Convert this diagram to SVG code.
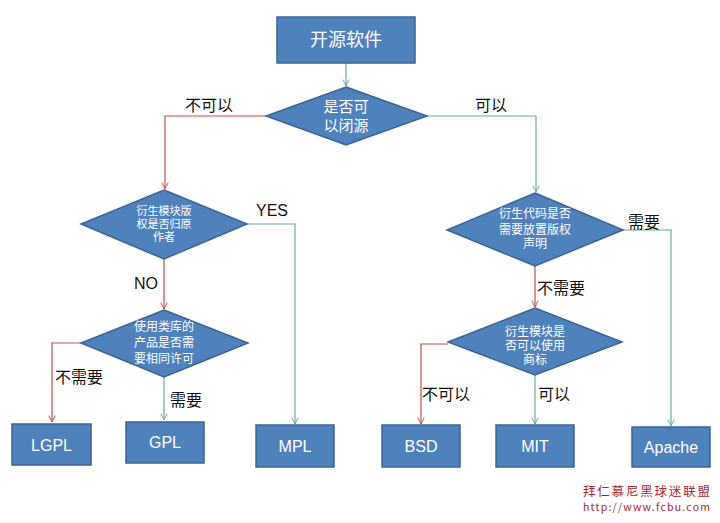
<svg xmlns="http://www.w3.org/2000/svg" width="720" height="523" viewBox="0 0 720 523">
<defs>
<style>
.node{fill:#4f81bd;stroke:#3a6595;stroke-width:1.5}
.nt{fill:#fff;font-family:"Liberation Sans","Noto Sans CJK SC",sans-serif;text-anchor:middle}
.lbl{fill:#111;font-family:"Liberation Sans","Noto Sans CJK SC",sans-serif;font-size:16px}
.r{fill:none;stroke:#c0504d;stroke-width:1.2}
.g{fill:none;stroke:#6aae94;stroke-width:1.2}
.wm{fill:#a8262e;font-family:"Noto Sans CJK SC",sans-serif}
</style>
<marker id="ar" viewBox="0 0 10 10" refX="9" refY="5" markerWidth="8" markerHeight="8" orient="auto" markerUnits="userSpaceOnUse">
<polyline points="1,1 9,5 1,9" fill="none" stroke="#c0504d" stroke-width="1.2"/>
</marker>
<marker id="ag" viewBox="0 0 10 10" refX="9" refY="5" markerWidth="8" markerHeight="8" orient="auto" markerUnits="userSpaceOnUse">
<polyline points="1,1 9,5 1,9" fill="none" stroke="#6aae94" stroke-width="1.2"/>
</marker>
</defs>
<rect width="720" height="523" fill="#fff"/>
<g id="connectors">
<path class="g" d="M346,63 V86" marker-end="url(#ag)"/>
<path class="r" d="M266,116 H165 V189" marker-end="url(#ar)"/>
<path class="g" d="M427,116 H536 V192" marker-end="url(#ag)"/>
<path class="g" d="M247,224 H295 V424" marker-end="url(#ag)"/>
<path class="r" d="M164,259 V309" marker-end="url(#ar)"/>
<path class="r" d="M81,343 H52 V422" marker-end="url(#ar)"/>
<path class="g" d="M164,377 V420" marker-end="url(#ag)"/>
<path class="g" d="M623,230 H671 V426" marker-end="url(#ag)"/>
<path class="r" d="M535,265 V307" marker-end="url(#ar)"/>
<path class="r" d="M448,344 H421 V424" marker-end="url(#ar)"/>
<path class="g" d="M535,375 V424" marker-end="url(#ag)"/>
</g>
<g id="labels">
<text class="lbl" x="185" y="111">不可以</text>
<text class="lbl" x="475" y="111">可以</text>
<text class="lbl" x="256" y="216" font-size="15">YES</text>
<text class="lbl" x="134" y="289" font-size="15">NO</text>
<text class="lbl" x="55" y="383">不需要</text>
<text class="lbl" x="170" y="406">需要</text>
<text class="lbl" x="628" y="228">需要</text>
<text class="lbl" x="537" y="294">不需要</text>
<text class="lbl" x="422" y="400">不可以</text>
<text class="lbl" x="538" y="400">可以</text>
</g>
<g id="n-start">
<rect class="node" x="277" y="17" width="138" height="46"/>
<text class="nt" x="346" y="46" font-size="18">开源软件</text>
</g>
<g id="n-close">
<polygon class="node" points="346,87 427,116 346,145 266,116"/>
<text class="nt" x="346" y="112" font-size="15">是否可</text>
<text class="nt" x="346" y="131" font-size="15">以闭源</text>
</g>
<g id="n-copyright">
<polygon class="node" points="164,190 247,224 164,259 81,224"/>
<text class="nt" x="164" y="215" font-size="11">衍生模块版</text>
<text class="nt" x="164" y="228" font-size="11">权是否归原</text>
<text class="nt" x="164" y="241" font-size="11">作者</text>
</g>
<g id="n-samelicense">
<polygon class="node" points="164,310 248,343 164,377 81,343"/>
<text class="nt" x="164" y="331" font-size="12">使用类库的</text>
<text class="nt" x="164" y="347" font-size="12">产品是否需</text>
<text class="nt" x="164" y="363" font-size="12">要相同许可</text>
</g>
<g id="n-notice">
<polygon class="node" points="535,193 623,230 535,266 447,230"/>
<text class="nt" x="535" y="218" font-size="12">衍生代码是否</text>
<text class="nt" x="535" y="234" font-size="12">需要放置版权</text>
<text class="nt" x="535" y="248" font-size="12">声明</text>
</g>
<g id="n-trademark">
<polygon class="node" points="535,308 622,342 535,375 448,342"/>
<text class="nt" x="535" y="336" font-size="12">衍生模块是</text>
<text class="nt" x="535" y="350" font-size="12">否可以使用</text>
<text class="nt" x="535" y="364" font-size="12">商标</text>
</g>
<g id="n-lgpl">
<rect class="node" x="12" y="424" width="79" height="41"/>
<text class="nt" x="51.5" y="451" font-size="16">LGPL</text>
</g>
<g id="n-gpl">
<rect class="node" x="126" y="422" width="78" height="41"/>
<text class="nt" x="165" y="448" font-size="16">GPL</text>
</g>
<g id="n-mpl">
<rect class="node" x="256" y="425" width="78" height="42"/>
<text class="nt" x="295" y="452" font-size="16">MPL</text>
</g>
<g id="n-bsd">
<rect class="node" x="382" y="425" width="78" height="42"/>
<text class="nt" x="421" y="452" font-size="16">BSD</text>
</g>
<g id="n-mit">
<rect class="node" x="496" y="425" width="78" height="42"/>
<text class="nt" x="535" y="452" font-size="16">MIT</text>
</g>
<g id="n-apache">
<rect class="node" x="632" y="427" width="78" height="40"/>
<text class="nt" x="671" y="453" font-size="16">Apache</text>
</g>
<g id="watermark">
<text class="wm" x="583" y="496" font-size="12.5" textLength="127">拜仁慕尼黑球迷联盟</text>
<text class="wm" x="583" y="511" font-size="10.5" font-family="Liberation Mono,monospace" textLength="127">http://www.fcbu.com</text>
</g>
</svg>
